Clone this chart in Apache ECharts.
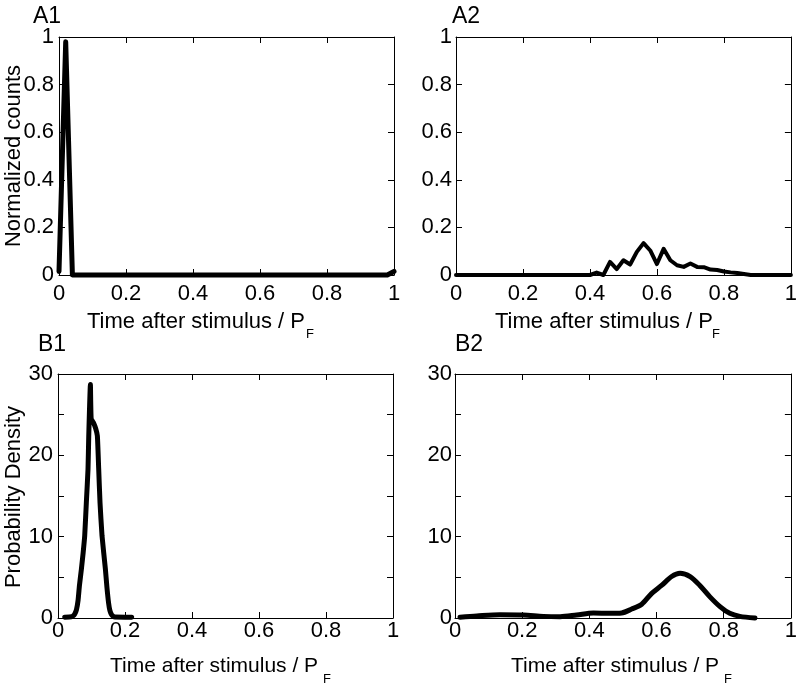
<!DOCTYPE html>
<html>
<head>
<meta charset="utf-8">
<script src="https://cdn.jsdelivr.net/npm/echarts@6/dist/echarts.min.js"></script>
<style>
html,body{margin:0;padding:0;background:#fff;}
#chart{width:800px;height:687px;}
</style>
</head>
<body>
<div id="chart"></div>
<script>
// ---- data ----
var panelLabels = ['A1', 'A2', 'B1', 'B2'];
var xTitle = 'Time after stimulus / P';
var xTitleSub = 'F';
var yTitleA = 'Normalized counts';
var yTitleB = 'Probability Density';

var a1X = [0, 0.02, 0.04, 0.98, 1.0];
var a1Y = [0.015, 0.98, 0, 0, 0.015];

var a2X = [0, 0.40, 0.42, 0.44, 0.46, 0.48, 0.50, 0.52, 0.54, 0.56, 0.58, 0.60, 0.62, 0.64, 0.66, 0.68, 0.70, 0.72, 0.74, 0.76, 0.78, 0.80, 0.82, 0.84, 0.86, 0.88, 1.0];
var a2Y = [0, 0, 0.01, 0, 0.055, 0.025, 0.062, 0.044, 0.097, 0.134, 0.103, 0.046, 0.11, 0.062, 0.041, 0.034, 0.048, 0.034, 0.033, 0.023, 0.021, 0.015, 0.011, 0.008, 0.004, 0, 0];

var b1X = [0.02, 0.04, 0.045, 0.05, 0.055, 0.06, 0.064, 0.0698, 0.075, 0.0797, 0.0846, 0.0896, 0.0918, 0.0967, 0.099, 0.106, 0.1125, 0.1175, 0.1215, 0.1254, 0.1314, 0.1415, 0.146, 0.151, 0.155, 0.16, 0.165, 0.17, 0.22];
var b1Y = [0.1, 0.15, 0.25, 0.5, 1.0, 2.2, 4.0, 6.0, 8.0, 10.1, 14.2, 18.3, 22.4, 28.7, 24.5, 24, 23.3, 22.4, 18.3, 14.2, 10.1, 6.0, 3.8, 1.85, 0.9, 0.4, 0.2, 0.12, 0.1];

var b2X = [0.015, 0.065, 0.134, 0.203, 0.263, 0.313, 0.362, 0.412, 0.461, 0.496, 0.526, 0.556, 0.585, 0.615, 0.645, 0.67, 0.70, 0.729, 0.759, 0.789, 0.818, 0.848, 0.893];
var b2Y = [0.1, 0.25, 0.4, 0.37, 0.2, 0.16, 0.37, 0.62, 0.57, 0.62, 1.1, 1.7, 3.0, 4.0, 5.1, 5.5, 5.1, 4.0, 2.6, 1.4, 0.57, 0.2, 0.0];

var xTicks = {min: 0, max: 1, interval: 0.2};
var yTicksA = {min: 0, max: 1, interval: 0.2};
var yTicksB = {min: 0, max: 30, interval: 5, labelEvery: 10};

// ---- build ----
function pairs(xs, ys) { var out = []; for (var i = 0; i < xs.length; i++) out.push([xs[i], ys[i]]); return out; }

var FONT = '"Liberation Sans", Arial, sans-serif';
var grids = [
  {left: 59, top: 37, width: 335, height: 238},
  {left: 456, top: 37, width: 336, height: 238},
  {left: 58, top: 374, width: 335, height: 244},
  {left: 455, top: 374, width: 336, height: 244}
];
var yLabelMargins = [5, 4, 5, 3];
var xLabelMargins = [8, 8, 2, 2];
var seriesData = [pairs(a1X, a1Y), pairs(a2X, a2Y), pairs(b1X, b1Y), pairs(b2X, b2Y)];
var lineWidths = [5, 4, 5, 5];
var smooths = [false, false, 0.15, 0.3];

var xAxes = [], yAxes = [], series = [];
var lineStyle = {color: '#000', width: 1};
grids.forEach(function (g, i) {
  var yt = i < 2 ? yTicksA : yTicksB;
  xAxes.push({
    type: 'value', gridIndex: i, position: 'bottom', min: xTicks.min, max: xTicks.max, interval: xTicks.interval,
    axisLine: {show: true, onZero: false, lineStyle: lineStyle},
    axisTick: {show: true, inside: true, length: 6, lineStyle: lineStyle},
    splitLine: {show: false},
    axisLabel: {show: true, color: '#000', fontSize: 22, fontFamily: FONT, margin: xLabelMargins[i],
      formatter: function (v) { return String(+v.toFixed(2)); }}
  });
  xAxes.push({
    type: 'value', gridIndex: i, position: 'top', min: xTicks.min, max: xTicks.max, interval: xTicks.interval,
    axisLine: {show: true, onZero: false, lineStyle: lineStyle},
    axisTick: {show: true, inside: true, length: 6, lineStyle: lineStyle},
    splitLine: {show: false}, axisLabel: {show: false}
  });
  yAxes.push({
    type: 'value', gridIndex: i, position: 'left', min: yt.min, max: yt.max, interval: yt.interval,
    axisLine: {show: true, onZero: false, lineStyle: lineStyle},
    axisTick: {show: true, inside: true, length: 6, lineStyle: lineStyle},
    splitLine: {show: false},
    axisLabel: {show: true, color: '#000', fontSize: 22, fontFamily: FONT, margin: yLabelMargins[i],
      formatter: function (v) {
        if (yt.labelEvery && Math.abs(v % yt.labelEvery) > 1e-9) return '';
        return String(+v.toFixed(2));
      }}
  });
  yAxes.push({
    type: 'value', gridIndex: i, position: 'right', min: yt.min, max: yt.max, interval: yt.interval,
    axisLine: {show: true, onZero: false, lineStyle: lineStyle},
    axisTick: {show: true, inside: true, length: 6, lineStyle: lineStyle},
    splitLine: {show: false}, axisLabel: {show: false}
  });
  series.push({
    type: 'line', xAxisIndex: 2 * i, yAxisIndex: 2 * i, data: seriesData[i],
    showSymbol: false, symbol: 'none', smooth: smooths[i], clip: false,
    lineStyle: {color: '#000', width: lineWidths[i], join: 'round', cap: 'round'},
    z: 3
  });
});

function txt(text, x, y, size, opts) {
  opts = opts || {};
  return {
    type: 'text', x: x, y: y, rotation: opts.rotation || 0, z: 10,
    style: {text: text, fill: '#000', font: size + 'px ' + FONT,
      align: opts.align || 'left', verticalAlign: opts.va || 'middle'}
  };
}

var graphics = [
  txt(panelLabels[0], 33, 17, 23),
  txt(panelLabels[1], 452, 17, 23),
  txt(panelLabels[2], 38, 345, 23),
  txt(panelLabels[3], 455, 345, 23),
  txt(xTitle, 87, 322, 22),
  txt(xTitleSub, 306, 334, 13),
  txt(xTitle, 495, 322, 22),
  txt(xTitleSub, 712, 334, 13),
  txt(xTitle, 110, 666, 21),
  txt(xTitleSub, 323, 679, 13),
  txt(xTitle, 511, 666, 21),
  txt(xTitleSub, 724, 679, 13),
  txt(yTitleA, 14, 156, 22, {rotation: Math.PI / 2, align: 'center'}),
  txt(yTitleB, 14, 497, 22, {rotation: Math.PI / 2, align: 'center'})
];

var chart = echarts.init(document.getElementById('chart'), null, {renderer: 'canvas'});
chart.setOption({
  animation: false,
  backgroundColor: '#fff',
  grid: grids.map(function (g) { return Object.assign({containLabel: false}, g); }),
  xAxis: xAxes,
  yAxis: yAxes,
  series: series,
  graphic: graphics
});
</script>
</body>
</html>
